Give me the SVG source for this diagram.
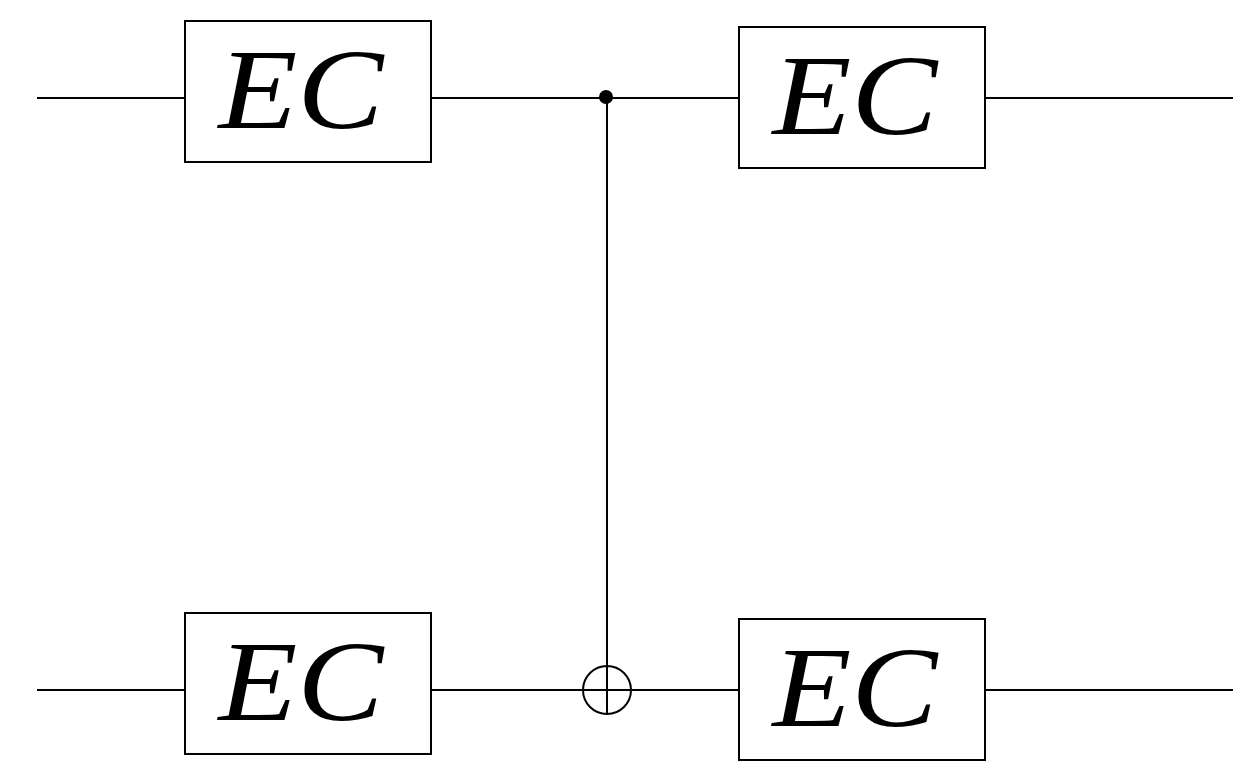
<svg xmlns="http://www.w3.org/2000/svg" width="1244" height="776" viewBox="0 0 1244 776">
<style>
.box{fill:#fff;stroke:#000;stroke-width:2}
.w{stroke:#000;stroke-width:2;fill:none}
.t{font-family:"Liberation Serif",serif;font-style:italic;font-size:114px;text-anchor:middle}
</style>
<rect width="1244" height="776" fill="#fff"/>
<g id="connectors">
<line class="w" x1="37" y1="98" x2="1233" y2="98"/>
<line class="w" x1="37" y1="690" x2="1233" y2="690"/>
<line class="w" x1="607" y1="97" x2="607" y2="714"/>
<circle cx="606" cy="97" r="7" fill="#000"/>
<circle class="w" cx="607" cy="690" r="24"/>
<line class="w" x1="583" y1="690" x2="631" y2="690"/>
</g>
<g id="ec1"><rect class="box" x="185" y="21" width="246" height="141"/><text class="t" x="301" y="128" textLength="165" lengthAdjust="spacingAndGlyphs">EC</text></g>
<g id="ec2"><rect class="box" x="739" y="27" width="246" height="141"/><text class="t" x="855" y="134" textLength="165" lengthAdjust="spacingAndGlyphs">EC</text></g>
<g id="ec3"><rect class="box" x="185" y="613" width="246" height="141"/><text class="t" x="301" y="720" textLength="165" lengthAdjust="spacingAndGlyphs">EC</text></g>
<g id="ec4"><rect class="box" x="739" y="619" width="246" height="141"/><text class="t" x="855" y="726" textLength="165" lengthAdjust="spacingAndGlyphs">EC</text></g>
</svg>
